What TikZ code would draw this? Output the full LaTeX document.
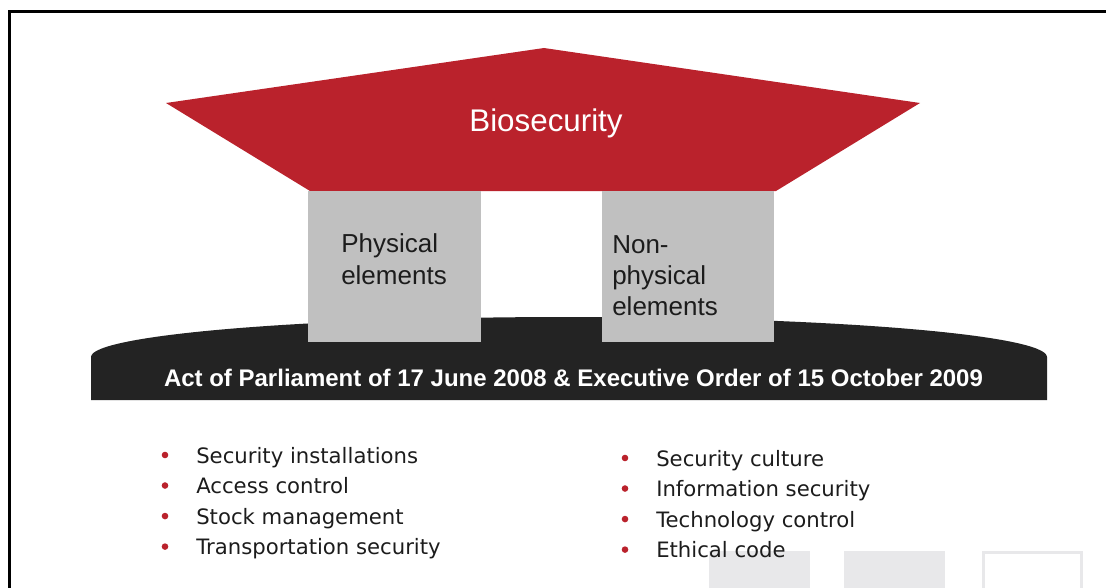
\documentclass[tikz,border=0pt]{standalone}
\usepackage{fontspec}
\setmainfont{Liberation Sans}
\newfontfamily\listfont{DejaVu Sans}
\usetikzlibrary{positioning,calc}
\definecolor{roofred}{RGB}{186,34,44}
\definecolor{pillargray}{RGB}{192,192,192}
\definecolor{basedark}{RGB}{35,35,35}
\definecolor{logogray}{RGB}{232,232,234}
\definecolor{inktext}{RGB}{28,28,28}

\begin{document}
\begin{tikzpicture}[x=0.75pt,y=-0.75pt,
  pillar/.style={fill=pillargray,inner sep=0pt,anchor=north west,
                 minimum width=129.75pt,minimum height=113.25pt},
  pillartext/.style={inner sep=0pt,anchor=base west,align=left,text=inktext,
                 font=\fontsize{19.5}{23.4}\selectfont},
  item/.style={inner sep=0pt,text=inktext,text height=11.5pt,text depth=3.5pt,
                 font=\listfont\fontsize{15.9}{18}\selectfont},
  dot/.style={fill=roofred}]
\useasboundingbox (0,0) rectangle (1106,588);
% frame
\draw[line width=2.25pt] (9,592) |- (1110,12);
% roof
\coordinate (eavesW) at (166,103);
\coordinate (ridge)  at (544,48);
\coordinate (eavesE) at (920,103);
\fill[roofred] (eavesW) -- (ridge) -- (eavesE) -- (776,191) -- (310,191) -- cycle;
\node[text=white,anchor=base,font=\fontsize{23.5}{28}\selectfont] (bio) at (546,132) {Biosecurity};
% base
\fill[basedark] (91,400) -- (91,357) arc[start angle=180,end angle=360,x radius=478,y radius=40] -- (1047,400) -- cycle;
\node[text=white,anchor=base,font=\bfseries\fontsize{18}{22}\selectfont] (law) at (573.5,386)
  {Act of Parliament of 17 June 2008 \& Executive Order of 15 October 2009};
% pillars
\node[pillar]                     (physpillar) at (308,191) {};
\node[pillar,minimum width=129pt] (nonpillar)  at (602,191) {};
\node[pillartext] (physlabel) at (341,284)   {Physical\\elements};
\node[pillartext] (nonlabel)  at (612,315.5) {Non-\\physical\\elements};
% logo squares
\fill[logogray] (709,551) rectangle (810,592);
\fill[logogray] (844,551) rectangle (945,592);
\draw[logogray,line width=2.25pt] (983.5,552.5) rectangle (1081.5,595);
% lists
\node[item,anchor=base west]                            (phys1) at (196,463) {Security installations};
\node[item,below=7.5pt of phys1.south west,anchor=north west] (phys2) {Access control};
\node[item,below=7.5pt of phys2.south west,anchor=north west] (phys3) {Stock management};
\node[item,below=7.5pt of phys3.south west,anchor=north west] (phys4) {Transportation security};
\node[item,anchor=base west]                            (non1)  at (656,466) {Security culture};
\node[item,below=7.5pt of non1.south west,anchor=north west]  (non2)  {Information security};
\node[item,below=7.5pt of non2.south west,anchor=north west]  (non3)  {Technology control};
\node[item,below=7.5pt of non3.south west,anchor=north west]  (non4)  {Ethical code};
\foreach \n in {phys1,phys2,phys3,phys4,non1,non2,non3,non4}
  \fill[dot] ($(\n.base west)+(-31,-8)$) circle (3.3);
\end{tikzpicture}
\end{document}
